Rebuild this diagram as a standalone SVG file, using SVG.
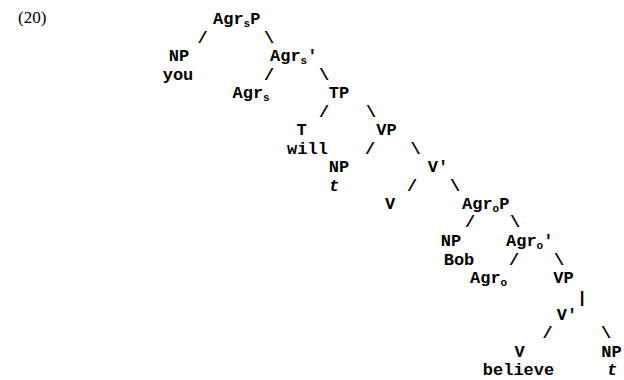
<svg xmlns="http://www.w3.org/2000/svg" width="624" height="380" viewBox="0 0 624 380">
<style>
.t{font-family:"Liberation Mono","DejaVu Sans Mono",monospace;font-weight:bold;font-size:17px;fill:#000}
.m{text-anchor:middle}
.sub{font-size:11px}
.i{font-style:italic}
.num{font-family:"Liberation Serif","Times New Roman",serif;font-size:17px;fill:#000}
</style>
<rect width="624" height="380" fill="#fff"/>
<text class="num" x="18" y="23">(20)</text>
<g id="AgrsP"><text class="t" x="213" y="24">Agr<tspan class="sub" dy="3">s</tspan><tspan dy="-3">P</tspan></text></g>
<g id="NP-you"><text class="t m" x="179" y="61">NP</text><text class="t m" x="178" y="79.5">you</text></g>
<g id="Agrs-bar"><text class="t" x="270" y="61">Agr<tspan class="sub" dy="3">s</tspan><tspan dy="-3">'</tspan></text></g>
<g id="Agrs"><text class="t" x="232.5" y="98">Agr<tspan class="sub" dy="3">s</tspan></text></g>
<g id="TP"><text class="t m" x="339" y="98">TP</text></g>
<g id="T-will"><text class="t m" x="301.5" y="135">T</text><text class="t m" x="307.5" y="153.5">will</text></g>
<g id="VP1"><text class="t m" x="386.5" y="135">VP</text></g>
<g id="NP-t1"><text class="t m" x="339" y="172">NP</text><text class="t m i" x="334" y="190.5">t</text></g>
<g id="Vbar1"><text class="t m" x="438" y="172">V'</text></g>
<g id="V1"><text class="t m" x="390" y="209">V</text></g>
<g id="AgroP"><text class="t" x="462" y="209">Agr<tspan class="sub" dy="3">o</tspan><tspan dy="-3">P</tspan></text></g>
<g id="NP-Bob"><text class="t m" x="451" y="246">NP</text><text class="t m" x="459" y="264.5">Bob</text></g>
<g id="Agro-bar"><text class="t" x="506" y="246">Agr<tspan class="sub" dy="3">o</tspan><tspan dy="-3">'</tspan></text></g>
<g id="Agro"><text class="t" x="470" y="283">Agr<tspan class="sub" dy="3">o</tspan></text></g>
<g id="VP2"><text class="t m" x="563.5" y="283">VP</text></g>
<g id="Vbar2"><text class="t m" x="567" y="320">V'</text></g>
<g id="V-believe"><text class="t m" x="519.5" y="357">V</text><text class="t m" x="518.5" y="375">believe</text></g>
<g id="NP-t2"><text class="t m" x="611.5" y="357">NP</text><text class="t m i" x="612" y="375">t</text></g>
<g id="connectors">
<text class="t m" x="202.5" y="42.5">/</text>
<text class="t m" x="269" y="42.5">\</text>
<text class="t m" x="269" y="79.5">/</text>
<text class="t m" x="324" y="79.5">\</text>
<text class="t m" x="324" y="116.5">/</text>
<text class="t m" x="371" y="116.5">\</text>
<text class="t m" x="370" y="153.5">/</text>
<text class="t m" x="415.5" y="153.5">\</text>
<text class="t m" x="412" y="190.5">/</text>
<text class="t m" x="455" y="190.5">\</text>
<text class="t m" x="470" y="227">/</text>
<text class="t m" x="515" y="227">\</text>
<text class="t m" x="514" y="264.5">/</text>
<text class="t m" x="559" y="264.5">\</text>
<text class="t m" x="582" y="302.5">|</text>
<text class="t m" x="547.5" y="338">/</text>
<text class="t m" x="606" y="338">\</text>
</g>
</svg>
